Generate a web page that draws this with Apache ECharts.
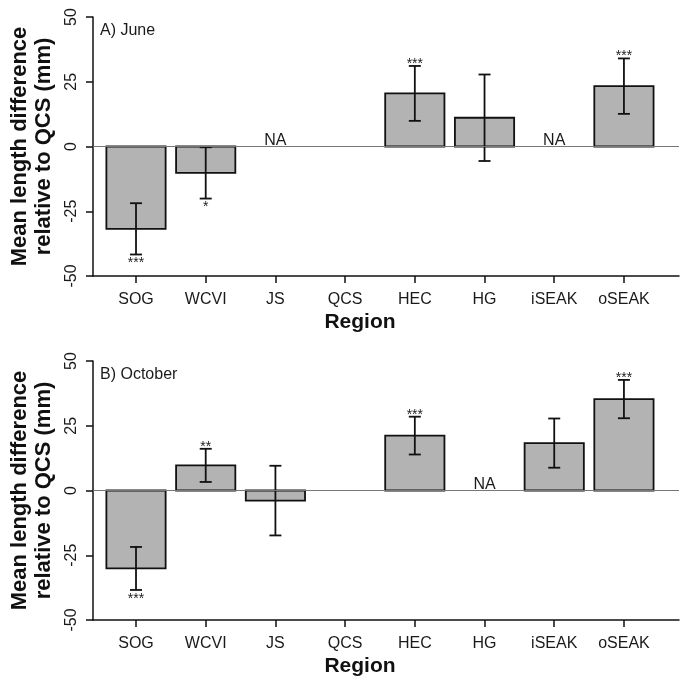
<!DOCTYPE html>
<html>
<head>
<meta charset="utf-8">
<script src="https://cdn.jsdelivr.net/npm/echarts@6/dist/echarts.min.js"></script>
<style>html,body{margin:0;padding:0;background:#fff}#c{width:683px;height:680px}</style>
</head>
<body>
<div id="c"></div>
<script>
const categories = ['SOG','WCVI','JS','QCS','HEC','HG','iSEAK','oSEAK'];
const yTicks = [-50, -25, 0, 25, 50];
const panelTitles = ['A) June', 'B) October'];
// June
const juneMean = [-31.8, -10.2, null, null, 20.5, 11.1, null, 23.3];
const juneErr  = [9.9, 9.9, null, null, 10.6, 16.7, null, 10.7];
const juneSig  = ['***', '*', '', '', '***', '', '', '***'];
const juneNA   = [false, false, true, false, false, false, true, false];
// October
const octMean = [-30.1, 9.7, -3.9, null, 21.2, null, 18.3, 35.3];
const octErr  = [8.3, 6.4, 13.45, null, 7.3, null, 9.5, 7.4];
const octSig  = ['***', '**', '', '', '***', '', '', '***'];
const octNA   = [false, false, false, false, false, true, false, false];

const FONT = 'Liberation Sans, Arial, sans-serif';
const chart = echarts.init(document.getElementById('c'), null, {renderer: 'canvas'});

const xMin = -0.617, xMax = 7.79;
const grids = [
  {left: 93, right: 4, top: 17, height: 259},
  {left: 93, right: 4, top: 361, height: 259}
];

function makeX(gi) {
  return {
    type: 'value', gridIndex: gi, min: xMin, max: xMax,
    splitLine: {show: false},
    axisLine: {show: true, onZero: false, lineStyle: {color: '#111', width: 1.5}},
    axisTick: {show: true, length: 7, lineStyle: {color: '#111', width: 1.5}, customValues: categories.map((c, i) => i)},
    axisLabel: {show: true, margin: 16, fontSize: 16, color: '#1a1a1a', fontFamily: FONT,
      customValues: categories.map((c, i) => i), formatter: v => categories[Math.round(v)]},
    name: 'Region', nameLocation: 'middle', nameGap: 36,
    nameTextStyle: {fontSize: 21, fontWeight: 'bold', color: '#111', fontFamily: FONT, padding: [0, 52, 0, 0]}
  };
}
function makeY(gi) {
  return {
    type: 'value', gridIndex: gi, min: yTicks[0], max: yTicks[yTicks.length - 1], interval: 25,
    splitLine: {show: false},
    axisLine: {show: true, onZero: false, lineStyle: {color: '#111', width: 1.5}},
    axisTick: {show: true, length: 7, lineStyle: {color: '#111', width: 1.5}},
    axisLabel: {rotate: 90, margin: 13, fontSize: 16, color: '#1a1a1a', fontFamily: FONT},
    name: 'Mean length difference\nrelative to QCS (mm)', nameLocation: 'middle', nameGap: 24,
    nameTextStyle: {fontSize: 22, fontWeight: 'bold', color: '#111', fontFamily: FONT, lineHeight: 24}
  };
}

function barSeries(gi, means, errs, sigs) {
  const data = categories.map((c, i) => means[i] == null ? null : [i, means[i], errs[i]]).filter(Boolean);
  return {
    type: 'custom', xAxisIndex: gi, yAxisIndex: gi, data: data,
    renderItem: function (params, api) {
      const x = api.value(0), m = api.value(1), e = api.value(2);
      const i = Math.round(x);
      const c0 = api.coord([x, 0]);
      const c1 = api.coord([x, m]);
      const w = api.size([0.85, 0])[0];
      const top = api.coord([x, m + e]);
      const bot = api.coord([x, m - e]);
      const cap = 6;
      const children = [
        {type: 'rect', shape: {x: c0[0] - w / 2, y: Math.min(c0[1], c1[1]), width: w, height: Math.abs(c1[1] - c0[1])},
          style: {fill: '#b3b3b3', stroke: '#111', lineWidth: 1.8}},
        {type: 'line', shape: {x1: top[0], y1: top[1], x2: bot[0], y2: bot[1]}, style: {stroke: '#111', lineWidth: 1.8}},
        {type: 'line', shape: {x1: top[0] - cap, y1: top[1], x2: top[0] + cap, y2: top[1]}, style: {stroke: '#111', lineWidth: 1.8}},
        {type: 'line', shape: {x1: bot[0] - cap, y1: bot[1], x2: bot[0] + cap, y2: bot[1]}, style: {stroke: '#111', lineWidth: 1.8}}
      ];
      const s = sigs[i];
      if (s) {
        if (m >= 0) {
          children.push({type: 'text', x: top[0], y: top[1] + 5,
            style: {text: s, fontSize: 14, fontFamily: FONT, fill: '#222', align: 'center', verticalAlign: 'bottom'}});
        } else {
          children.push({type: 'text', x: bot[0], y: bot[1] + 2,
            style: {text: s, fontSize: 14, fontFamily: FONT, fill: '#222', align: 'center', verticalAlign: 'top'}});
        }
      }
      return {type: 'group', children: children};
    },
    markLine: {symbol: 'none', silent: true, label: {show: false}, animation: false,
      lineStyle: {color: '#777', type: 'solid', width: 1}, data: [{yAxis: 0}]},
    z: 3
  };
}
function naSeries(gi, na) {
  const data = categories.map((c, i) => na[i] ? [i, 0] : null).filter(Boolean);
  return {
    type: 'custom', xAxisIndex: gi, yAxisIndex: gi, data: data,
    renderItem: function (params, api) {
      const p = api.coord([api.value(0), api.value(1)]);
      return {type: 'text', x: p[0], y: p[1] + 2,
        style: {text: 'NA', fontSize: 16, fontFamily: FONT, fill: '#1a1a1a', align: 'center', verticalAlign: 'bottom'}};
    },
    z: 4
  };
}

chart.setOption({
  animation: false,
  backgroundColor: '#fff',
  title: [
    {text: panelTitles[0], left: 100, top: 23, padding: 0, textStyle: {fontSize: 16, fontWeight: 'normal', color: '#1a1a1a', fontFamily: FONT}},
    {text: panelTitles[1], left: 100, top: 367, padding: 0, textStyle: {fontSize: 16, fontWeight: 'normal', color: '#1a1a1a', fontFamily: FONT}}
  ],
  grid: grids,
  xAxis: [makeX(0), makeX(1)],
  yAxis: [makeY(0), makeY(1)],
  series: [
    barSeries(0, juneMean, juneErr, juneSig),
    naSeries(0, juneNA),
    barSeries(1, octMean, octErr, octSig),
    naSeries(1, octNA)
  ]
});
</script>
</body>
</html>
